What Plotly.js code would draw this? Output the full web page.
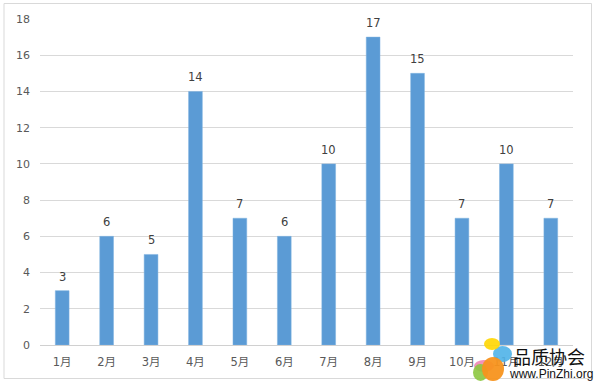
<!DOCTYPE html>
<html>
<head>
<meta charset="utf-8">
<script src="https://cdn.plot.ly/plotly-3.0.1.min.js"></script>
<style>html,body{margin:0;padding:0;background:#fff;}#chart{width:597px;height:384px;}</style>
</head>
<body>
<div id="chart"></div>
<script>
const months = ["1月","2月","3月","4月","5月","6月","7月","8月","9月","10月","11月","12月"];
const values = [3, 6, 5, 14, 7, 6, 10, 17, 15, 7, 10, 7];
const yTicks = [0, 2, 4, 6, 8, 10, 12, 14, 16, 18];

const W = 597, H = 384, L = 40, R = 24, T = 19, B = 39;
const pw = W - L - R, ph = H - T - B;
const px = x => (x - L) / pw;
const py = y => (H - B - y) / ph;

const font = '"DejaVu Sans", "Noto Sans CJK SC", sans-serif';

const shapes = [
  {type:'rect', xref:'paper', yref:'paper', x0:px(4), x1:px(591.5), y0:py(378.5), y1:py(3.5),
   line:{color:'#d9d9d9', width:1}, fillcolor:'rgba(0,0,0,0)', layer:'below'},
  // watermark logo petals
  {type:'circle', xref:'paper', yref:'paper', x0:px(474), x1:px(494), y0:py(372), y1:py(360),
   fillcolor:'#f07fb0', line:{width:0}, opacity:0.85},
  {type:'circle', xref:'paper', yref:'paper', x0:px(493), x1:px(512), y0:py(362), y1:py(346),
   fillcolor:'#4fb3e8', line:{width:0}, opacity:0.9},
  {type:'circle', xref:'paper', yref:'paper', x0:px(473), x1:px(488), y0:py(381), y1:py(364),
   fillcolor:'#8cc63f', line:{width:0}, opacity:0.9},
  {type:'circle', xref:'paper', yref:'paper', x0:px(484), x1:px(500), y0:py(350), y1:py(338),
   fillcolor:'#ffd600', line:{width:0}, opacity:0.9},
  {type:'circle', xref:'paper', yref:'paper', x0:px(482), x1:px(504), y0:py(381), y1:py(357),
   fillcolor:'#f7941d', line:{width:0}, opacity:0.95}
];

// value labels above bars, built from the data arrays
const labelAnns = months.map((m, i) => ({
  x: m, y: values[i], xref:'x', yref:'y', text: String(values[i]), showarrow:false,
  yanchor:'bottom', xanchor:'center', yshift: 5,
  font:{family:font, size:11.5, color:'#404040'}
}));

const annotations = labelAnns.concat([
  {xref:'paper', yref:'paper', x:px(549), y:py(356), text:'品质协会', showarrow:false,
   font:{family:'"Noto Sans CJK SC", sans-serif', size:18, color:'#111'}, xanchor:'center', yanchor:'middle'},
  {xref:'paper', yref:'paper', x:px(551), y:py(374), text:'www.PinZhi.org', showarrow:false,
   font:{family:'"Liberation Sans", Arial, sans-serif', size:12, color:'#111'}, xanchor:'center', yanchor:'middle'}
]);

Plotly.newPlot('chart', [{
  type:'bar',
  x: months,
  y: values,
  marker:{color:'#5b9bd5', line:{color:'#7fb2e0', width:0.5}},
  hoverinfo:'none'
}], {
  width: W, height: H,
  margin:{l:L, r:R, t:T, b:B, pad:0},
  paper_bgcolor:'#fff', plot_bgcolor:'#fff',
  bargap: 0.69,
  showlegend:false,
  font:{family:font, size:11, color:'#595959'},
  xaxis:{
    type:'category', showgrid:false, showline:false, zeroline:false,
    ticks:'', tickfont:{family:'"DejaVu Sans", "Noto Sans CJK SC", sans-serif', size:11.5, color:'#595959'},
    ticklabelstandoff: 8, fixedrange:true
  },
  yaxis:{
    range:[0, 18], tickvals:yTicks, ticktext:yTicks.map(String),
    showgrid:true, gridcolor:'#d9d9d9', gridwidth:1,
    zeroline:true, zerolinecolor:'#d0d0d0', zerolinewidth:1,
    showline:false, ticks:'', ticklabelstandoff: 9,
    tickfont:{family:font, size:11, color:'#595959'}, fixedrange:true
  },
  shapes: shapes,
  annotations: annotations
}, {displayModeBar:false, staticPlot:true});
</script>
</body>
</html>
